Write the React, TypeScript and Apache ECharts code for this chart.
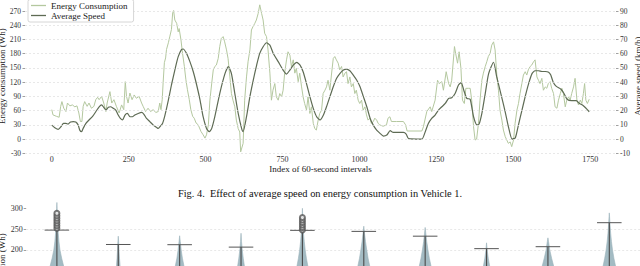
import React, { useEffect, useRef } from "react";
import * as echarts from "echarts";

// Top figure: [index of 60-second interval, value]
const energyReadings: [number, number][] = [
  [0, 62], [4, 51], [15, 48], [24, 46], [29, 69], [33, 79], [39, 65], [46, 58], [51, 76], [59, 70],
  [67, 72], [75, 68], [82, 70], [88, 55], [93, 37], [98, 37], [102, 69], [107, 79], [115, 69], [121, 76],
  [129, 65], [137, 69], [143, 83], [149, 88], [154, 83], [162, 90], [169, 76], [176, 58], [180, 76], [189, 100],
  [195, 76], [202, 83], [210, 69], [219, 55], [227, 72], [234, 62], [239, 121], [243, 90], [248, 76], [254, 97],
  [261, 83], [268, 93], [275, 86], [284, 90], [292, 76], [297, 69], [305, 58], [313, 65], [321, 58], [330, 62],
  [338, 56], [346, 58], [351, 76], [355, 62], [359, 83], [362, 119], [366, 161], [370, 171], [373, 189], [379, 203],
  [384, 217], [389, 231], [393, 266], [396, 271], [400, 251], [406, 244], [411, 226], [414, 233], [420, 209], [425, 181],
  [431, 153], [436, 125], [441, 104], [447, 83], [452, 62], [458, 48], [463, 44], [469, 34], [476, 30], [485, 16],
  [492, 9], [498, 2], [503, 9], [509, 30], [514, 82], [520, 118], [525, 146], [530, 153], [535, 156], [541, 170],
  [546, 195], [551, 212], [557, 216], [562, 205], [568, 188], [573, 170], [579, 131], [584, 96], [589, 82], [595, 68],
  [600, 40], [606, 22], [611, 15], [614, -27], [622, -9], [627, 82], [633, 131], [638, 163], [644, 188], [649, 230],
  [654, 237], [660, 244], [665, 251], [671, 265], [676, 283], [682, 265], [687, 251], [692, 223], [698, 216], [703, 188],
  [709, 139], [714, 82], [719, 103], [725, 117], [730, 89], [736, 82], [741, 96], [747, 89], [752, 103], [757, 139],
  [763, 167], [768, 184], [774, 177], [779, 153], [785, 167], [790, 139], [795, 149], [801, 121], [806, 139], [812, 110],
  [817, 89], [822, 75], [828, 61], [833, 89], [839, 54], [844, 68], [850, 33], [855, 22], [860, 19], [866, 40],
  [871, 54], [877, 61], [882, 96], [888, 103], [893, 110], [898, 124], [904, 103], [909, 135], [915, 170], [920, 174],
  [925, 167], [931, 160], [936, 146], [942, 153], [947, 131], [953, 139], [958, 142], [963, 117], [969, 131], [974, 110],
  [980, 117], [985, 96], [990, 103], [996, 82], [1001, 75], [1007, 82], [1012, 61], [1018, 68], [1023, 51], [1028, 40],
  [1034, 44], [1039, 33], [1045, 37], [1050, 44], [1056, 40], [1061, 33], [1066, 30], [1077, 27], [1088, 30], [1093, 44],
  [1099, 47], [1104, 37], [1121, 37], [1143, 37], [1150, 30], [1155, 17], [1203, 17], [1208, 26], [1219, 58], [1230, 68],
  [1235, 58], [1246, 82], [1254, 124], [1259, 117], [1268, 121], [1273, 103], [1282, 142], [1290, 117], [1295, 110], [1300, 124],
  [1309, 195], [1313, 180], [1319, 160], [1324, 184], [1330, 149], [1335, 82], [1341, 75], [1346, 107], [1354, 107], [1360, 107],
  [1365, 82], [1371, 26], [1376, -2], [1381, 0], [1387, 33], [1392, 82], [1398, 124], [1403, 139], [1409, 153], [1414, 163],
  [1419, 174], [1425, 181], [1430, 198], [1436, 205], [1441, 188], [1447, 131], [1452, 103], [1457, 61], [1463, 40], [1468, 19],
  [1474, 5], [1479, -2], [1484, -9], [1490, -6], [1495, -16], [1501, -2], [1506, 33], [1512, 61], [1517, 75], [1522, 96],
  [1528, 117], [1533, 135], [1539, 142], [1544, 135], [1549, 146], [1555, 153], [1560, 156], [1566, 163], [1571, 167], [1577, 131],
  [1582, 124], [1587, 117], [1593, 128], [1598, 103], [1604, 110], [1609, 107], [1614, 117], [1620, 121], [1625, 107], [1631, 96],
  [1636, 68], [1642, 65], [1647, 82], [1653, 96], [1658, 107], [1663, 96], [1669, 68], [1674, 82], [1680, 89], [1685, 82],
  [1690, 96], [1696, 110], [1701, 128], [1707, 82], [1712, 72], [1718, 82], [1723, 75], [1728, 96], [1732, 117], [1736, 82],
  [1741, 75], [1747, 84],
];

const speedReadings: [number, number][] = [
  [0, 9.8], [10, 8], [21, 6.8], [31, 9], [38, 11], [46, 11], [53, 10.5], [61, 12], [70, 12.2], [78, 12],
  [86, 9.8], [91, 6.3], [97, 5.2], [102, 7.5], [111, 11], [121, 13.4], [132, 15.7], [143, 19.2], [154, 22.7], [162, 24],
  [169, 22.3], [176, 20.4], [184, 22.3], [191, 22.7], [200, 21.6], [208, 20.4], [216, 16.9], [223, 14.5], [230, 13.4], [238, 16.9],
  [246, 18], [254, 15.7], [262, 15.7], [270, 16.9], [281, 18], [292, 18.7], [299, 17.6], [308, 14.5], [319, 12.2], [330, 9.8],
  [341, 8.2], [346, 7.5], [353, 9.1], [360, 11], [368, 16.9], [379, 27.4], [389, 38], [400, 48.5], [411, 57.9], [422, 63],
  [427, 63.3], [438, 60.2], [449, 54.4], [460, 47.3], [471, 38], [482, 27.4], [492, 15.7], [503, 7.5], [512, 5.2], [520, 7.5],
  [530, 15.7], [546, 32], [563, 46], [574, 51], [584, 46], [595, 32], [606, 18], [617, 7.5], [622, 5.2], [633, 15.7],
  [644, 29.8], [655, 41.5], [666, 52], [676, 60.2], [687, 64.9], [698, 67.7], [709, 66], [720, 60.2], [736, 54.4], [752, 48.5],
  [763, 45.7], [774, 48.5], [785, 52], [796, 53.9], [807, 52], [817, 47.3], [828, 39], [839, 29.8], [850, 21.6], [861, 15.7],
  [872, 13.4], [883, 16.9], [893, 22.7], [904, 29.8], [915, 36.8], [926, 42.7], [937, 46.2], [948, 48.5], [958, 49.2], [969, 48],
  [980, 45], [991, 41.5], [1002, 36.8], [1013, 29.8], [1024, 22.7], [1035, 14.5], [1045, 9.8], [1056, 6.3], [1067, 4], [1078, 2.1],
  [1089, 2.8], [1100, 5.9], [1110, 4.7], [1143, 4.7], [1152, 3.5], [1160, 0.3], [1203, 0], [1214, 5.2], [1224, 11], [1235, 14.5],
  [1246, 16.9], [1257, 20.4], [1268, 22.7], [1279, 25], [1290, 28.6], [1300, 29], [1311, 32], [1322, 38], [1331, 39.7], [1339, 34.5],
  [1349, 28.6], [1360, 28], [1371, 15.7], [1382, 10], [1389, 10.5], [1398, 18], [1409, 32], [1420, 46], [1436, 54], [1446, 44],
  [1463, 29], [1474, 19], [1485, 8], [1496, 0], [1507, 1], [1517, 10], [1528, 20], [1539, 30], [1550, 39], [1561, 46],
  [1571, 48], [1582, 48], [1593, 47.5], [1604, 47.5], [1615, 47], [1622, 45], [1630, 40], [1640, 37], [1655, 35], [1665, 32],
  [1675, 28], [1690, 27], [1705, 27], [1715, 25], [1725, 24], [1735, 22], [1747, 19.2],
];

const xTickValues = [0, 250, 500, 750, 1000, 1250, 1500, 1750];
const seriesNames = ["Energy Consumption", "Average Speed"];
const captionText = "Fig. 4.\u00a0 Effect of average speed on energy consumption in Vehicle 1.";

// Bottom figure (violins, cut off by the page edge)
const violinTop = [314, 233, 234, 240, 300, 257, 254, 217, 229, 289];
const whiskerCap = [247.6, 213, 212.5, 206.7, 247, 244.5, 233, 203, 207.7, 265.4];
const profileLevels = [300, 280, 260, 240, 220, 200, 180, 160, 140, 120, 100];
const violinHalfWidths = [
  [0.004, 0.008, 0.014, 0.022, 0.033, 0.05, 0.078, 0.112, 0.15, 0.19, 0.22],
  [0, 0, 0, 0, 0.006, 0.012, 0.02, 0.03, 0.045, 0.06, 0.075],
  [0, 0, 0, 0, 0.01, 0.025, 0.045, 0.072, 0.1, 0.13, 0.16],
  [0, 0, 0, 0, 0.008, 0.02, 0.036, 0.056, 0.08, 0.1, 0.12],
  [0, 0.005, 0.01, 0.018, 0.03, 0.045, 0.065, 0.09, 0.12, 0.15, 0.18],
  [0, 0, 0, 0.012, 0.028, 0.048, 0.07, 0.098, 0.13, 0.16, 0.19],
  [0, 0, 0, 0.01, 0.025, 0.045, 0.068, 0.097, 0.13, 0.16, 0.19],
  [0, 0, 0, 0, 0, 0.01, 0.028, 0.052, 0.075, 0.1, 0.12],
  [0, 0, 0, 0, 0.01, 0.03, 0.06, 0.095, 0.13, 0.16, 0.19],
  [0, 0.004, 0.012, 0.022, 0.035, 0.052, 0.075, 0.103, 0.135, 0.17, 0.2],
];
const outlierViolin = [0, 0, 0, 0, 0, 0, 0, 4, 4, 4, 4, 4, 4];
const outlierValue = [252, 258, 264, 270, 276, 282, 288, 248, 254, 260, 266, 272, 278];
const bottomGridValues = [250, 200, 150, 100, 50, 0];

const FONT = "Liberation Serif";
// The chart canvas is taller than the page and shifted up, so that the
// lower part of the second figure falls outside the page.
const SHIFT = 20;
const CANVAS_H = 400;

export default function App() {
  const ref = useRef<HTMLDivElement>(null);

  useEffect(() => {
    document.body.style.margin = "0";
    document.body.style.overflow = "hidden";
    const chart = echarts.init(ref.current!, null, { renderer: "svg" });

    const violinData = violinTop.map((_, i) => [i]);
    const tickStyle = { show: true, length: 2.5, lineStyle: { color: "#777", width: 0.7 } };
    const hiddenLine = { show: true, onZero: false, lineStyle: { color: "rgba(0,0,0,0)", width: 0 } };

    const option: any = {
      animation: false,
      backgroundColor: "#ffffff",
      textStyle: { fontFamily: FONT },
      legend: {
        data: seriesNames,
        orient: "vertical",
        left: 28,
        top: SHIFT - 0.5,
        z: 6,
        icon: "rect",
        itemWidth: 15,
        itemHeight: 1.3,
        itemGap: 1,
        padding: [1.5, 6, 2, 3],
        backgroundColor: "#ffffff",
        borderColor: "#cccccc",
        borderWidth: 0.8,
        borderRadius: 2,
        textStyle: { fontFamily: FONT, fontSize: 9, color: "#222", lineHeight: 9 },
      },
      grid: [
        {
          left: 25, right: 24, top: SHIFT + 11, bottom: CANVAS_H - (SHIFT + 153.3),
          containLabel: false, outerBoundsMode: "none",
        },
        {
          left: 26.2, right: 0, top: SHIFT + 208.3, bottom: CANVAS_H - (SHIFT + 353.9),
          containLabel: false, outerBoundsMode: "none",
        },
      ],
      xAxis: [
        {
          type: "value",
          gridIndex: 0,
          min: -87,
          max: 1834,
          axisLine: { show: false },
          axisTick: { show: false },
          splitLine: { show: false },
          axisLabel: {
            customValues: xTickValues,
            formatter: (v: number) => String(v),
            fontFamily: FONT,
            fontSize: 8,
            color: "#333",
            margin: 2,
          },
          name: "Index of 60-second intervals",
          nameLocation: "middle",
          nameGap: 8,
          nameTextStyle: { fontFamily: FONT, fontSize: 9, color: "#222", verticalAlign: "top" },
        },
        {
          type: "value",
          gridIndex: 1,
          min: -0.5,
          max: 9.5,
          show: false,
        },
      ],
      yAxis: [
        {
          type: "value",
          gridIndex: 0,
          min: -30,
          max: 270,
          interval: 30,
          position: "left",
          z: 5,
          axisLine: hiddenLine,
          axisTick: tickStyle,
          axisLabel: { fontFamily: FONT, fontSize: 7.5, color: "#333", margin: 4, hideOverlap: false },
          splitLine: { show: true, lineStyle: { color: "#dedede", width: 0.7, type: [2, 2] } },
          name: "Energy consumption (Wh)",
          nameLocation: "middle",
          nameRotate: 90,
          nameGap: 18.5,
          nameMoveOverlap: false,
          nameTextStyle: { fontFamily: FONT, fontSize: 9, color: "#222", padding: [0, 0, 0, 12] },
        },
        {
          type: "value",
          gridIndex: 0,
          min: -10,
          max: 90,
          interval: 10,
          position: "right",
          axisLine: hiddenLine,
          axisTick: tickStyle,
          axisLabel: { fontFamily: FONT, fontSize: 7.5, color: "#333", margin: 4, hideOverlap: false },
          splitLine: { show: false },
          name: "Average speed (km/h)",
          nameLocation: "middle",
          nameRotate: 90,
          nameGap: 17,
          nameMoveOverlap: false,
          nameTextStyle: { fontFamily: FONT, fontSize: 9, color: "#222", padding: [0, 0, 0, 12] },
        },
        {
          type: "value",
          gridIndex: 1,
          min: -50,
          max: 300,
          interval: 50,
          axisLine: hiddenLine,
          axisTick: tickStyle,
          axisLabel: {
            fontFamily: FONT,
            fontSize: 8,
            color: "#333",
            margin: 3.5,
            formatter: (v: number) => (v < 200 ? "" : String(v)),
          },
          splitLine: { show: false },
          name: "Energy consumption (Wh)",
          nameLocation: "middle",
          nameRotate: 90,
          nameGap: 19.5,
          nameMoveOverlap: false,
          nameTextStyle: { fontFamily: FONT, fontSize: 9, color: "#222" },
        },
      ],
      series: [
        {
          name: seriesNames[0],
          type: "line",
          xAxisIndex: 0,
          yAxisIndex: 0,
          data: energyReadings,
          symbol: "none",
          clip: false,
          lineStyle: { color: "#b4c89f", width: 1 },
          itemStyle: { color: "#b4c89f" },
          z: 2,
        },
        {
          name: seriesNames[1],
          type: "line",
          xAxisIndex: 0,
          yAxisIndex: 1,
          data: speedReadings,
          symbol: "none",
          smooth: 0.2,
          clip: false,
          lineStyle: { color: "#5e6b54", width: 1.2 },
          itemStyle: { color: "#5e6b54" },
          z: 3,
        },
        {
          type: "custom",
          name: "violins",
          xAxisIndex: 1,
          yAxisIndex: 2,
          clip: false,
          data: violinData,
          renderItem: (params: any, api: any) => {
            const i = params.dataIndex;
            const hw = violinHalfWidths[i];
            const right: number[][] = [api.coord([i, violinTop[i]])];
            const left: number[][] = [];
            profileLevels.forEach((lv, j) => {
              if (lv < violinTop[i] && hw[j] > 0) {
                right.push(api.coord([i + hw[j], lv]));
                left.unshift(api.coord([i - hw[j], lv]));
              }
            });
            const points = right.concat(left);
            const lowest = profileLevels[profileLevels.length - 1];
            const capL = api.coord([i - 0.2, whiskerCap[i]]);
            const capR = api.coord([i + 0.2, whiskerCap[i]]);
            const wTop = api.coord([i, whiskerCap[i]]);
            const wBot = api.coord([i, lowest]);
            return {
              type: "group",
              children: [
                {
                  type: "polygon",
                  shape: { points },
                  style: { fill: "#a3bbc3", stroke: "#9ab2ba", lineWidth: 0.6 },
                },
                {
                  type: "line",
                  shape: { x1: wTop[0], y1: wTop[1], x2: wBot[0], y2: wBot[1] },
                  style: { stroke: "#4a4a4a", lineWidth: 1.1 },
                },
                {
                  type: "line",
                  shape: { x1: capL[0], y1: capL[1], x2: capR[0], y2: capR[1] },
                  style: { stroke: "#555555", lineWidth: 1 },
                },
              ],
            };
          },
          z: 3,
        },
        {
          type: "scatter",
          name: "outliers",
          xAxisIndex: 1,
          yAxisIndex: 2,
          data: outlierValue.map((v, k) => [outlierViolin[k], v]),
          symbol: "emptyCircle",
          symbolSize: 5,
          itemStyle: { color: "#555", borderColor: "#555", borderWidth: 0.8 },
          z: 4,
          markLine: {
            silent: true,
            symbol: "none",
            label: { show: false },
            lineStyle: { color: "#dedede", width: 0.7, type: [2, 2] },
            data: bottomGridValues.map((v) => ({ yAxis: v })),
            z: 1,
          },
        },
      ],
      graphic: [
        {
          type: "text",
          x: 320,
          y: SHIFT + 193,
          style: {
            text: captionText,
            font: `10.4px "${FONT}"`,
            fill: "#111",
            textAlign: "center",
            textVerticalAlign: "middle",
          },
        },
      ],
    };

    chart.setOption(option);
    return () => chart.dispose();
  }, []);

  return (
    <div
      ref={ref}
      style={{ position: "fixed", left: 0, top: -SHIFT, width: 640, height: CANVAS_H, background: "#fff" }}
    />
  );
}
